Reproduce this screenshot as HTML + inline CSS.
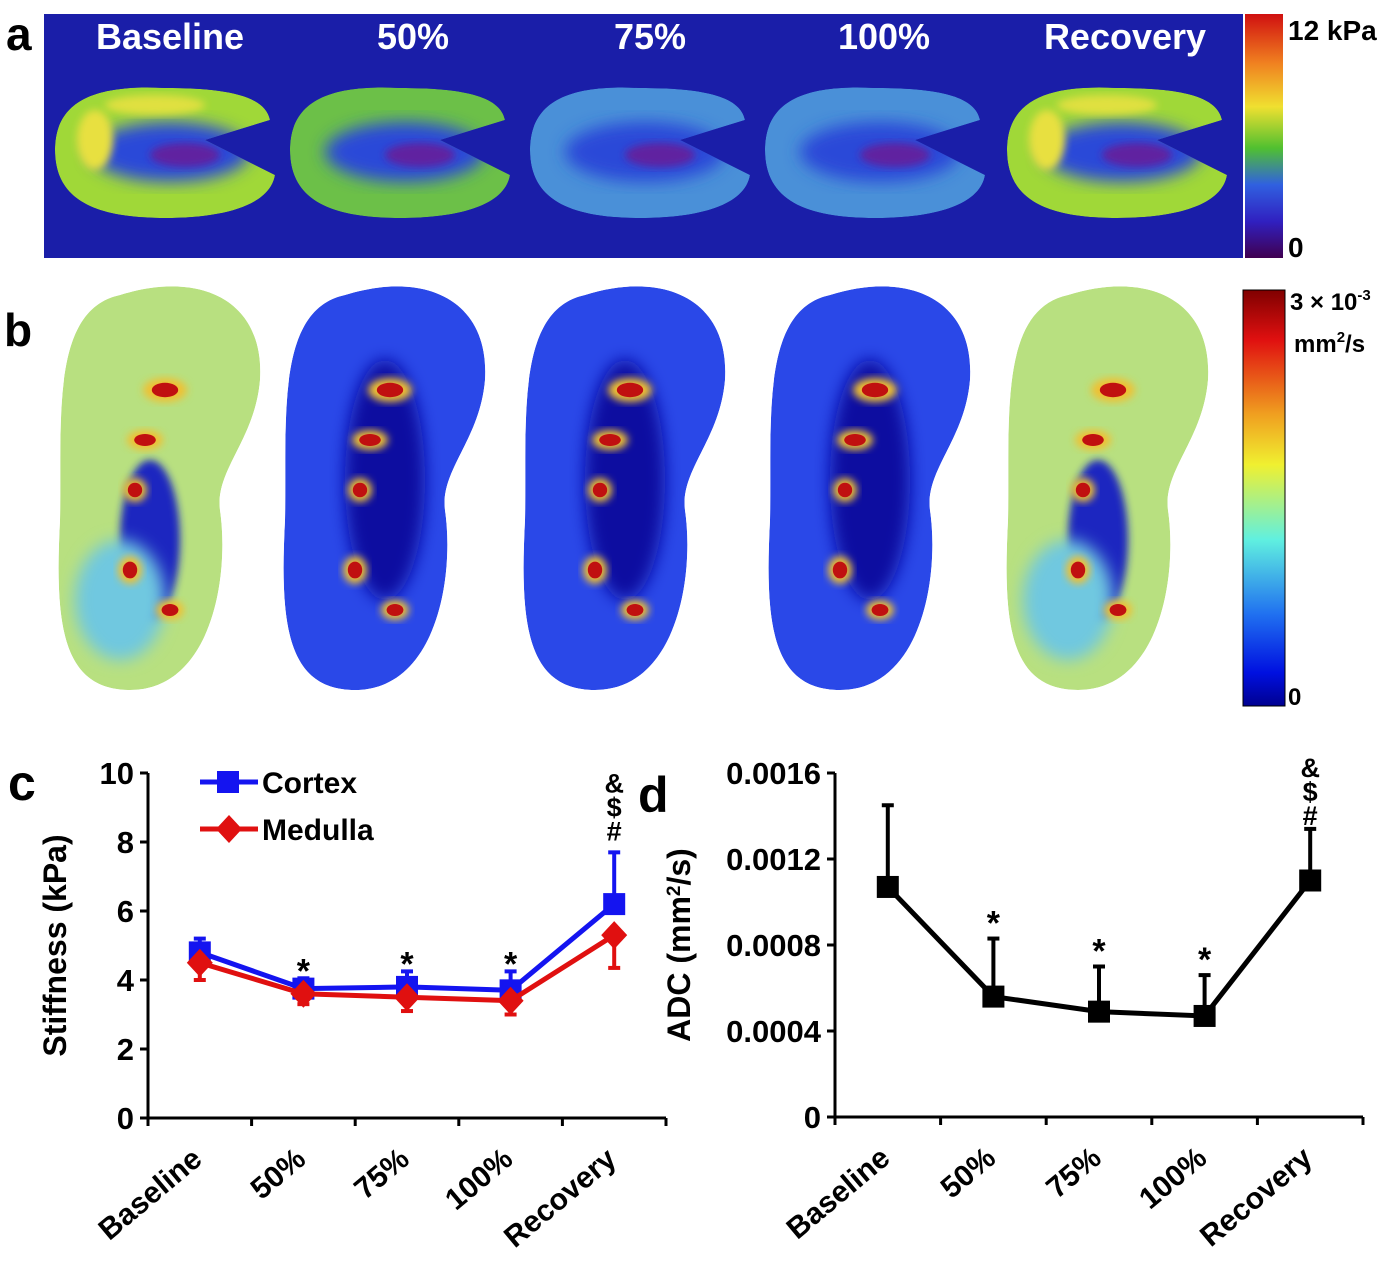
<!DOCTYPE html>
<html><head><meta charset="utf-8"><style>
body{margin:0;background:#fff;}
svg{display:block;font-family:"Liberation Sans",Arial,sans-serif;font-weight:bold;}
</style></head><body>
<svg id="fig" width="1397" height="1267" viewBox="0 0 1397 1267" xmlns="http://www.w3.org/2000/svg">
<defs>
<linearGradient id="cbA" x1="0" y1="0" x2="0" y2="1">
<stop offset="0" stop-color="#d01010"/><stop offset="0.2" stop-color="#f08020"/><stop offset="0.38" stop-color="#f0e030"/><stop offset="0.55" stop-color="#50c030"/><stop offset="0.7" stop-color="#3060e0"/><stop offset="0.85" stop-color="#3020c0"/><stop offset="1" stop-color="#400050"/></linearGradient>
<linearGradient id="cbB" x1="0" y1="0" x2="0" y2="1">
<stop offset="0" stop-color="#800000"/><stop offset="0.12" stop-color="#e01010"/><stop offset="0.3" stop-color="#f0a020"/><stop offset="0.42" stop-color="#f0f030"/><stop offset="0.6" stop-color="#60f0e0"/><stop offset="0.78" stop-color="#2070f0"/><stop offset="0.92" stop-color="#0010e0"/><stop offset="1" stop-color="#000090"/></linearGradient>
<filter id="bl" x="-20%" y="-20%" width="140%" height="140%"><feGaussianBlur stdDeviation="8"/></filter>
<filter id="bl2" x="-20%" y="-20%" width="140%" height="140%"><feGaussianBlur stdDeviation="4"/></filter>
</defs>

<!-- Panel a -->
<text x="6" y="50" font-size="46">a</text>
<rect x="44" y="14" width="1199" height="244" fill="#1a1ea8"/>
<g id="kidA"></g>
<g font-size="36" fill="#fff" text-anchor="middle">
<text x="170" y="49">Baseline</text><text x="413" y="49">50%</text><text x="650" y="49">75%</text><text x="884" y="49">100%</text><text x="1125" y="49">Recovery</text></g>
<rect x="1245" y="14" width="38" height="244" fill="url(#cbA)"/>
<text x="1288" y="40" font-size="28">12 kPa</text>
<text x="1288" y="257" font-size="28">0</text>

<!-- Panel b -->
<text x="4" y="346" font-size="46">b</text>
<g id="kidB"></g>
<rect x="1243" y="290" width="42" height="416" fill="url(#cbB)" stroke="#000" stroke-width="1"/>
<text x="1290" y="310" font-size="24">3 × 10<tspan font-size="15" dy="-10">-3</tspan></text>
<text x="1294" y="352" font-size="24">mm<tspan font-size="15" dy="-10">2</tspan><tspan dy="10">/s</tspan></text>
<text x="1288" y="705" font-size="24">0</text>

<!-- Panel c/d -->
<text x="8" y="800" font-size="50">c</text>
<text x="638" y="812" font-size="50">d</text>
<g id="chartC"></g>
<g id="chartD"></g>
</svg>
<script>
// chart data
const categories=["Baseline","50%","75%","100%","Recovery"];
const cortex=[4.8,3.75,3.8,3.7,6.2];
const cortexErr=[0.4,0.3,0.45,0.55,1.5];
const medulla=[4.5,3.6,3.5,3.4,5.3];
const medullaErr=[0.5,0.3,0.4,0.4,0.95];
const stiffTicks=[0,2,4,6,8,10];
const adc=[0.00107,0.00056,0.00049,0.00047,0.0011];
const adcErr=[0.00038,0.00027,0.00021,0.00019,0.00024];
const adcTicks=["0","0.0004","0.0008","0.0012","0.0016"];
const sigC=["","*","*","*","&\n$\n#"];
const sigD=["","*","*","*","&\n$\n#"];

const NS="http://www.w3.org/2000/svg";
function mk(p,t,a){const e=document.createElementNS(NS,t);for(const k in a)e.setAttribute(k,a[k]);p.appendChild(e);return e;}

function drawChart(g,opt){
  const {x0,x1,y0,y1,ymax}=opt;
  const n=categories.length,bw=(x1-x0)/n;
  const X=i=>x0+bw*(i+0.5);
  const Y=v=>y0-(v/ymax)*(y0-y1);
  const ax=mk(g,'path',{d:`M${x0} ${y1} V${y0} H${x1}`,stroke:'#000','stroke-width':3,fill:'none'});
  
  opt.ticks.forEach(t=>{const v=parseFloat(t);
    mk(g,'line',{x1:x0-8,x2:x0,y1:Y(v),y2:Y(v),stroke:'#000','stroke-width':3});
    const tx=mk(g,'text',{x:x0-14,y:Y(v)+11,'font-size':31,'text-anchor':'end'});tx.textContent=t;
    });
  for(let i=0;i<=n;i++)mk(g,'line',{x1:x0+bw*i,x2:x0+bw*i,y1:y0,y2:y0+8,stroke:'#000','stroke-width':3});
  categories.forEach((c,i)=>{const tx=mk(g,'text',{x:0,y:0,'font-size':30,'text-anchor':'end',transform:`translate(${X(i)+4},${y0+44}) rotate(-40)`});tx.textContent=c;
    });
  const yt=mk(g,'text',{x:0,y:0,'font-size':32,'text-anchor':'middle',transform:`translate(${opt.ytx},${(y0+y1)/2}) rotate(-90)`});
  yt.innerHTML=opt.ytitle;
  return {X,Y};
}
function series(g,vals,errs,dir,color,marker,name,X,Y){
  vals.forEach((v,i)=>{const ye=Y(v+dir*errs[i]);
    const l=mk(g,'line',{x1:X(i),x2:X(i),y1:Y(v),y2:ye,stroke:color,'stroke-width':4});
    
    mk(g,'line',{x1:X(i)-6,x2:X(i)+6,y1:ye,y2:ye,stroke:color,'stroke-width':4});});
  const pl=mk(g,'polyline',{points:vals.map((v,i)=>X(i)+','+Y(v)).join(' '),fill:'none',stroke:color,'stroke-width':5});
  
  vals.forEach((v,i)=>{let m;
    if(marker==='sq')m=mk(g,'rect',{x:X(i)-11,y:Y(v)-11,width:22,height:22,fill:color});
    else m=mk(g,'polygon',{points:`${X(i)},${Y(v)-14} ${X(i)+13},${Y(v)} ${X(i)},${Y(v)+14} ${X(i)-13},${Y(v)}`,fill:color});
    });
}
function sig(g,labels,X,yfun){
  labels.forEach((s,i)=>{if(!s)return;const lines=s.split('\n');const base=yfun(i);
    lines.forEach((t,k)=>{const tx=mk(g,'text',{x:X(i),y:base-(lines.length-1-k)*24,'font-size':t==='*'?34:27,'text-anchor':'middle'});tx.textContent=t;
      });});
}
// chart c
const gc=document.getElementById('chartC');
const c=drawChart(gc,{x0:148,x1:666,y0:1118,y1:773,ymax:10,ticks:stiffTicks.map(String),ytx:66,ytitle:'Stiffness (kPa)'});
series(gc,cortex,cortexErr,1,'#1414f0','sq','cortex',c.X,c.Y);
series(gc,medulla,medullaErr,-1,'#e01010','dia','medulla',c.X,c.Y);
sig(gc,sigC,c.X,i=>i===4?c.Y(cortex[i]+cortexErr[i])-12:c.Y(cortex[i]+cortexErr[i])+4);
// legend
const lg=mk(gc,'g',{});
mk(lg,'line',{x1:200,x2:258,y1:782,y2:782,stroke:'#1414f0','stroke-width':5});mk(lg,'rect',{x:217,y:771,width:22,height:22,fill:'#1414f0'});
let t1=mk(lg,'text',{x:262,y:793,'font-size':30});t1.textContent='Cortex';
mk(lg,'line',{x1:200,x2:258,y1:829,y2:829,stroke:'#e01010','stroke-width':5});mk(lg,'polygon',{points:'229,815 242,829 229,843 216,829',fill:'#e01010'});
let t2=mk(lg,'text',{x:262,y:840,'font-size':30});t2.textContent='Medulla';
// chart d
const gd=document.getElementById('chartD');
const d=drawChart(gd,{x0:835,x1:1363,y0:1117,y1:773,ymax:0.0016,ticks:adcTicks,ytx:690,ytitle:'ADC (mm<tspan font-size="19" dy="-10">2</tspan><tspan dy="10">/s)</tspan>'});
series(gd,adc,adcErr,1,'#000','sq','adc',d.X,d.Y);
sig(gd,sigD,d.X,i=>d.Y(adc[i]+adcErr[i])-4);

// kidney images (decorative)
const ka=document.getElementById('kidA');
[[165,1],[400,0.6],[640,0.4],[875,0.5],[1117,1]].forEach(([cx,s],i)=>{
  const g=mk(ka,'g',{});
  const outer=`M${cx-110},150 C${cx-110},95 ${cx-60},85 ${cx},88 C${cx+60},88 ${cx+100},95 ${cx+105},120 L${cx+40},140 L${cx+110},175 C${cx+105},205 ${cx+60},218 ${cx},218 C${cx-70},218 ${cx-110},200 ${cx-110},150 Z`;
  const cp=mk(g,'clipPath',{id:'ca'+i});mk(cp,'path',{d:outer});
  const gi=mk(g,'g',{'clip-path':`url(#ca${i})`});
  mk(gi,'path',{d:outer,fill:s>0.8?'#a0d838':(s>0.55?'#6cc048':'#4a90d8')});
  mk(gi,'ellipse',{cx:cx+5,cy:152,rx:80,ry:30,fill:'#2a4ad8',filter:'url(#bl)'});
  mk(gi,'ellipse',{cx:cx+20,cy:155,rx:35,ry:12,fill:'#6020a0',filter:'url(#bl2)'});
  if(s>0.8){mk(gi,'ellipse',{cx:cx-70,cy:140,rx:18,ry:30,fill:'#e8e040',filter:'url(#bl2)'});mk(gi,'ellipse',{cx:cx-10,cy:105,rx:50,ry:10,fill:'#e0e040',filter:'url(#bl2)'});}
});
const kb=document.getElementById('kidB');
[[160,1],[385,0],[625,0],[870,0],[1108,1]].forEach(([cx,s],i)=>{
  const g=mk(kb,'g',{});
  const path=`M${cx-40},295 C${cx+40},270 ${cx+105},300 ${cx+100},380 C${cx+95},440 ${cx+55},470 ${cx+60},510 C${cx+70},580 ${cx+50},690 ${cx-30},690 C${cx-100},690 ${cx-105},620 ${cx-100},520 C${cx-98},420 ${cx-110},310 ${cx-40},295 Z`;
  const cp=mk(g,'clipPath',{id:'cb'+i});mk(cp,'path',{d:path});
  const gi=mk(g,'g',{'clip-path':`url(#cb${i})`});
  mk(gi,'path',{d:path,fill:s?'#b8e080':'#2a48e8'});
  if(s){mk(gi,'ellipse',{cx:cx-10,cy:540,rx:30,ry:80,fill:'#1a28c0',filter:'url(#bl2)'});mk(gi,'ellipse',{cx:cx-40,cy:600,rx:45,ry:60,fill:'#70c8e0',filter:'url(#bl)'});}
  else{mk(gi,'ellipse',{cx:cx,cy:480,rx:40,ry:120,fill:'#1010a0',filter:'url(#bl)'});}
  [[5,-100,22,12],[-15,-50,18,10],[-25,0,12,12],[-30,80,12,14],[10,120,14,10]].forEach(([dx,dy,rx,ry])=>{
    mk(gi,'ellipse',{cx:cx+dx,cy:490+dy,rx:rx,ry:ry,fill:'#f0c030',filter:'url(#bl2)'});
    mk(gi,'ellipse',{cx:cx+dx,cy:490+dy,rx:rx*0.6,ry:ry*0.6,fill:'#c01010'});});
});
</script>
</body></html>
